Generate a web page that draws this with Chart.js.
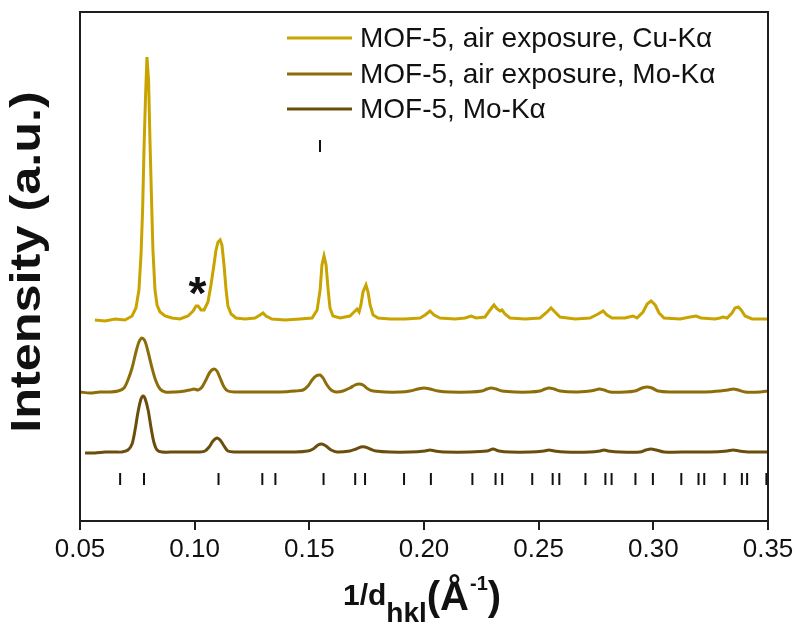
<!DOCTYPE html>
<html>
<head>
<meta charset="utf-8">
<script src="https://cdn.jsdelivr.net/npm/chart.js@4.4.0/dist/chart.umd.min.js"></script>
<style>
html, body { margin: 0; padding: 0; background: #fff; }
</style>
</head>
<body>
<canvas id="xrdChart" width="800" height="627"></canvas>
<script>
// Подписи серий и цвета
const seriesLabels = ['MOF-5, air exposure, Cu-K\u03B1', 'MOF-5, air exposure, Mo-K\u03B1', 'MOF-5, Mo-K\u03B1'];
const seriesColors = ['#C9A300', '#8D6D0A', '#6B4D0C'];

// Деления оси x
const xTicks = [0.05, 0.10, 0.15, 0.20, 0.25, 0.30, 0.35];

// MOF-5, air exposure, Cu-Kα (верхняя кривая)
const cuX = [0.0565, 0.0609, 0.0653, 0.0696, 0.0727, 0.0744, 0.0757, 0.0766, 0.0773, 0.0779, 0.0786, 0.0792, 0.0799, 0.0805, 0.0812, 0.0818, 0.0827, 0.0836, 0.0849, 0.0871,
  0.0901, 0.0936, 0.0971, 0.0993, 0.1006, 0.1015, 0.1028, 0.1041, 0.1058, 0.1071, 0.1084, 0.1093, 0.1102, 0.1111, 0.1119, 0.1128, 0.1137, 0.1145, 0.1159, 0.1180,
  0.1220, 0.1263, 0.1285, 0.1298, 0.1311, 0.1337, 0.1394, 0.1459, 0.1512, 0.1534, 0.1547, 0.1555, 0.1564, 0.1573, 0.1582, 0.1590, 0.1603, 0.1634, 0.1677, 0.1695,
  0.1708, 0.1717, 0.1725, 0.1734, 0.1747, 0.1756, 0.1765, 0.1778, 0.1800, 0.1852, 0.1917, 0.1983, 0.2005, 0.2026, 0.2044, 0.2070, 0.2135, 0.2179, 0.2205, 0.2227,
  0.2266, 0.2288, 0.2305, 0.2319, 0.2332, 0.2340, 0.2353, 0.2375, 0.2441, 0.2506, 0.2532, 0.2554, 0.2571, 0.2593, 0.2659, 0.2724, 0.2759, 0.2781, 0.2798, 0.2820,
  0.2877, 0.2894, 0.2912, 0.2929, 0.2955, 0.2973, 0.2990, 0.3008, 0.3025, 0.3047, 0.3117, 0.3160, 0.3186, 0.3208, 0.3269, 0.3291, 0.3304, 0.3322, 0.3343, 0.3356,
  0.3370, 0.3383, 0.3400, 0.3431, 0.3466, 0.3500];
const cuY = [201, 200, 202, 201, 205, 213, 231, 266, 311, 371, 426, 464, 441, 381, 321, 271, 231, 216, 209, 205,
  203, 202, 205, 210, 215, 215, 211, 211, 219, 236, 256, 271, 279, 281, 276, 256, 231, 215, 207, 203,
  202, 203, 206, 208, 205, 202, 201, 202, 203, 211, 231, 256, 265, 256, 231, 213, 205, 203, 205, 209,
  212, 209, 216, 229, 236, 229, 216, 206, 203, 202, 202, 203, 206, 210, 206, 203, 202, 203, 205, 203,
  204, 211, 216, 212, 210, 211, 207, 203, 202, 203, 208, 213, 209, 204, 202, 203, 207, 210, 206, 203,
  203, 204, 205, 203, 209, 217, 220, 216, 208, 203, 202, 204, 205, 203, 202, 203, 204, 203, 208, 213,
  214, 211, 205, 202, 202, 202];

// MOF-5, air exposure, Mo-Kα (средняя кривая)
const moAirX = [0.0500, 0.0544, 0.0587, 0.0631, 0.0666, 0.0692, 0.0709, 0.0727, 0.0744, 0.0757, 0.0770, 0.0783, 0.0797, 0.0814, 0.0831, 0.0849, 0.0871, 0.0914, 0.0958, 0.0980,
  0.0997, 0.1015, 0.1032, 0.1049, 0.1067, 0.1084, 0.1097, 0.1111, 0.1128, 0.1145, 0.1176, 0.1241, 0.1307, 0.1372, 0.1438, 0.1473, 0.1494, 0.1512, 0.1529, 0.1547,
  0.1560, 0.1577, 0.1595, 0.1616, 0.1647, 0.1677, 0.1699, 0.1717, 0.1734, 0.1756, 0.1778, 0.1830, 0.1896, 0.1939, 0.1974, 0.2000, 0.2026, 0.2061, 0.2114, 0.2201,
  0.2253, 0.2275, 0.2292, 0.2314, 0.2340, 0.2397, 0.2462, 0.2506, 0.2528, 0.2545, 0.2567, 0.2593, 0.2659, 0.2724, 0.2746, 0.2763, 0.2785, 0.2811, 0.2877, 0.2920,
  0.2951, 0.2973, 0.2994, 0.3021, 0.3073, 0.3160, 0.3226, 0.3291, 0.3326, 0.3348, 0.3370, 0.3400, 0.3466, 0.3500];
const moAirY = [129, 128, 129, 129, 130, 133, 141, 153, 169, 179, 183, 180, 169, 153, 140, 132, 129, 129, 130, 131,
  132, 131, 134, 141, 149, 152, 150, 143, 134, 130, 129, 129, 129, 129, 130, 131, 135, 141, 145, 146,
  143, 136, 131, 129, 130, 133, 136, 137, 136, 132, 130, 129, 129, 130, 132, 133, 132, 130, 129, 129,
  130, 132, 133, 132, 130, 129, 129, 130, 132, 133, 132, 130, 129, 130, 131, 132, 131, 129, 129, 130,
  133, 134, 133, 130, 129, 129, 129, 130, 131, 132, 131, 129, 129, 130];

// MOF-5, Mo-Kα (нижняя кривая)
const moX = [0.0522, 0.0565, 0.0609, 0.0653, 0.0683, 0.0709, 0.0727, 0.0740, 0.0753, 0.0766, 0.0775, 0.0783, 0.0797, 0.0810, 0.0823, 0.0836, 0.0858, 0.0914, 0.0980, 0.1023,
  0.1045, 0.1063, 0.1080, 0.1097, 0.1111, 0.1128, 0.1145, 0.1176, 0.1263, 0.1350, 0.1438, 0.1494, 0.1516, 0.1538, 0.1555, 0.1573, 0.1595, 0.1621, 0.1677, 0.1704,
  0.1725, 0.1743, 0.1765, 0.1791, 0.1852, 0.1939, 0.2005, 0.2026, 0.2048, 0.2092, 0.2201, 0.2275, 0.2301, 0.2327, 0.2375, 0.2462, 0.2524, 0.2545, 0.2567, 0.2615,
  0.2724, 0.2768, 0.2785, 0.2803, 0.2855, 0.2942, 0.2968, 0.2990, 0.3012, 0.3047, 0.3160, 0.3247, 0.3322, 0.3348, 0.3374, 0.3422, 0.3500];
const moY = [68, 68, 69, 69, 69, 71, 77, 91, 109, 122, 125, 123, 111, 93, 78, 71, 69, 69, 69, 69,
  70, 74, 80, 83, 81, 75, 70, 69, 69, 69, 69, 70, 72, 76, 77, 75, 71, 69, 70, 72,
  74, 74, 72, 70, 69, 69, 70, 71, 70, 69, 69, 70, 72, 70, 69, 69, 70, 71, 70, 69,
  69, 70, 71, 70, 69, 69, 71, 72, 71, 69, 69, 69, 70, 71, 70, 69, 69];

// Положения рефлексов (штрихи внизу)
const reflections = [0.0675, 0.0779, 0.1104, 0.1295, 0.1352, 0.1562, 0.1700, 0.1743, 0.1913, 0.2030, 0.2211, 0.2312, 0.2341, 0.2472,
  0.2561, 0.2590, 0.2704, 0.2791, 0.2818, 0.2922, 0.2998, 0.3122, 0.3197, 0.3222, 0.3311, 0.3386, 0.3409, 0.3493];
const reflectionLevel = 42;

// Звёздочка над примесным пиком
const starNote = { x: 0.1012, y: 212, text: '*' };

const FONT = "'Liberation Sans', Arial, sans-serif";

function toPoints(xs, ys) {
  return xs.map((x, i) => ({ x: x, y: ys[i] }));
}

// Рамка, легенда, подписи осей и звёздочка
const decorPlugin = {
  id: 'decor',
  afterDraw(chart) {
    const ctx = chart.ctx;
    const a = chart.chartArea;
    const xs = chart.scales.x;
    const ys = chart.scales.y;
    ctx.save();

    // рамка
    ctx.strokeStyle = '#1e1e1e';
    ctx.lineWidth = 2;
    ctx.strokeRect(a.left, a.top, a.right - a.left, a.bottom - a.top);

    // легенда
    const rows = [38, 74, 109];
    ctx.font = '28px ' + FONT;
    ctx.textBaseline = 'middle';
    ctx.fillStyle = '#111';
    rows.forEach((ry, i) => {
      ctx.strokeStyle = seriesColors[i];
      ctx.lineWidth = 3;
      ctx.beginPath();
      ctx.moveTo(287, ry);
      ctx.lineTo(352, ry);
      ctx.stroke();
      ctx.fillText(seriesLabels[i], 360, ry + 1);
    });
    ctx.strokeStyle = '#111';
    ctx.lineWidth = 2;
    ctx.beginPath();
    ctx.moveTo(320, 140);
    ctx.lineTo(320, 152);
    ctx.stroke();

    // звёздочка
    ctx.font = 'bold 46px ' + FONT;
    ctx.textAlign = 'center';
    ctx.textBaseline = 'alphabetic';
    ctx.fillText(starNote.text, xs.getPixelForValue(starNote.x), ys.getPixelForValue(starNote.y));

    // подпись оси y (немного растянута вдоль строки, как в оригинале)
    ctx.save();
    ctx.translate(28, 262);
    ctx.rotate(-Math.PI / 2);
    ctx.scale(1.2, 1);
    ctx.font = 'bold 42px ' + FONT;
    ctx.textAlign = 'center';
    ctx.textBaseline = 'middle';
    ctx.fillText('Intensity (a.u.)', 0, 0);
    ctx.restore();

    // подпись оси x: 1/d_hkl (Å^-1)
    ctx.textAlign = 'left';
    ctx.textBaseline = 'alphabetic';
    let x = 343;
    ctx.font = 'bold 30px ' + FONT;
    ctx.fillText('1/d', x, 605);
    x += ctx.measureText('1/d').width;
    ctx.font = 'bold 28px ' + FONT;
    ctx.fillText('hkl', x, 622);
    x += ctx.measureText('hkl').width;
    ctx.font = 'bold 40px ' + FONT;
    ctx.fillText('(\u00C5', x, 610);
    x += ctx.measureText('(\u00C5').width + 1;
    ctx.font = 'bold 20px ' + FONT;
    ctx.fillText('-1', x, 590);
    x += ctx.measureText('-1').width;
    ctx.font = 'bold 40px ' + FONT;
    ctx.fillText(')', x, 610);

    ctx.restore();
  }
};

const xrdChart = new Chart(document.getElementById('xrdChart').getContext('2d'), {
  type: 'scatter',
  data: {
    datasets: [
      {
        label: seriesLabels[0],
        data: toPoints(cuX, cuY),
        showLine: true,
        borderColor: seriesColors[0],
        borderWidth: 3,
        pointRadius: 0,
        tension: 0
      },
      {
        label: seriesLabels[1],
        data: toPoints(moAirX, moAirY),
        showLine: true,
        borderColor: seriesColors[1],
        borderWidth: 3,
        pointRadius: 0,
        tension: 0.3
      },
      {
        label: seriesLabels[2],
        data: toPoints(moX, moY),
        showLine: true,
        borderColor: seriesColors[2],
        borderWidth: 3,
        pointRadius: 0,
        tension: 0.3
      },
      {
        label: 'reflections',
        data: reflections.map(x => ({ x: x, y: reflectionLevel })),
        showLine: false,
        pointStyle: 'line',
        rotation: 90,
        pointRadius: 6,
        borderWidth: 2,
        borderColor: '#111'
      }
    ]
  },
  options: {
    responsive: false,
    animation: false,
    devicePixelRatio: 1,
    layout: { padding: { left: 0, right: 32, top: 12, bottom: 0 } },
    plugins: {
      legend: { display: false },
      tooltip: { enabled: false }
    },
    scales: {
      x: {
        type: 'linear',
        min: 0.05,
        max: 0.35,
        afterBuildTicks: scale => { scale.ticks = xTicks.map(v => ({ value: v })); },
        afterFit: scale => { scale.height = 106; },
        ticks: {
          color: '#111',
          font: { family: FONT, size: 26 },
          padding: 4,
          maxRotation: 0,
          callback: v => v.toFixed(2)
        },
        grid: { drawOnChartArea: false, drawTicks: true, tickLength: 9, color: '#1e1e1e', lineWidth: 2 },
        border: { display: true, color: '#1e1e1e', width: 2 }
      },
      y: {
        min: 0,
        max: 509,
        afterFit: scale => { scale.width = 80; },
        ticks: { display: false },
        grid: { display: false },
        border: { display: true, color: '#1e1e1e', width: 2 }
      }
    }
  },
  plugins: [decorPlugin]
});
</script>
</body>
</html>
